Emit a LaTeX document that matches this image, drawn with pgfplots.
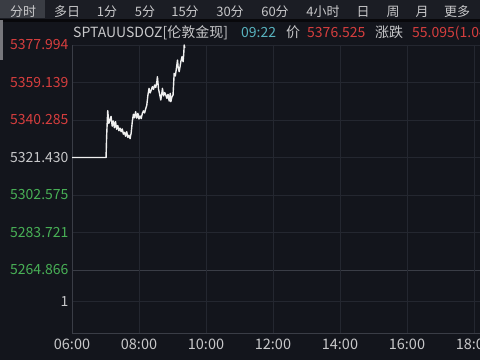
\documentclass[border=0pt]{standalone}
\usepackage{pgfplots}
\pgfplotsset{compat=1.18}
\usepackage{pgfplotstable}
\usepackage{fontspec}
\setmainfont{Noto Sans CJK SC}

\definecolor{bg}{RGB}{19,21,28}
\definecolor{tabbar}{RGB}{27,29,36}
\definecolor{tabsel}{RGB}{58,61,68}
\definecolor{gridc}{RGB}{36,39,48}
\definecolor{axisc}{RGB}{58,61,70}
\definecolor{txt}{RGB}{200,200,202}
\definecolor{upred}{RGB}{214,62,62}
\definecolor{downgreen}{RGB}{72,176,86}
\definecolor{tealc}{RGB}{88,178,190}
\definecolor{pricec}{RGB}{240,240,240}

% minutes after 06:00, price
\pgfplotstableread{
t p
0 5321.43
61 5321.43
62 5331.90
64 5344.97
66 5338.60
68 5340.28
70 5342.10
72 5337.20
74 5339.80
76 5336.40
78 5339.45
80 5335.60
82 5337.50
84 5334.90
86 5336.20
88 5334.40
90 5335.80
92 5333.20
94 5334.10
96 5332.10
98 5334.41
100 5331.50
102 5332.60
104 5330.90
106 5333.80
108 5339.50
110 5343.20
112 5341.40
114 5344.47
116 5341.20
118 5343.63
120 5340.80
122 5342.30
124 5341.00
126 5343.63
128 5344.90
130 5343.80
132 5345.90
134 5347.82
136 5352.85
138 5356.20
140 5353.90
142 5355.40
144 5357.04
146 5355.70
148 5357.88
150 5356.60
152 5359.40
153 5362.07
155 5355.80
157 5353.20
159 5350.34
161 5353.90
162 5356.20
164 5352.40
166 5354.10
168 5352.90
170 5351.18
172 5353.20
174 5349.80
176 5353.69
177 5349.50
179 5351.90
181 5352.85
183 5363.74
185 5362.40
187 5366.10
189 5370.45
190 5367.10
192 5364.58
194 5367.90
195 5369.61
197 5372.12
199 5369.61
200 5372.96
201 5377.994
202 5376.525
}\pricedata

\begin{document}
\begin{tikzpicture}[x=1pt,y=1pt]
\fill[bg] (0,0) rectangle (480,360);
\useasboundingbox (0,0) rectangle (480,360);

% tab bar
\fill[tabbar] (0,341) rectangle (480,360);
\fill[tabsel] (0,342) rectangle (45,360);
\fill[black!60!bg] (0,338) rectangle (480,341);
\fill[txt!55!bg] (0,300) rectangle (3,340);
\begin{scope}[every node/.style={font=\fontsize{13}{15}\selectfont, text=txt, anchor=base, inner sep=0pt}]
\node at (23,344) {分时};
\node at (67,344) {多日};
\node at (107,344) {1分};
\node at (145,344) {5分};
\node at (185,344) {15分};
\node at (230,344) {30分};
\node at (275,344) {60分};
\node at (323,344) {4小时};
\node at (363,344) {日};
\node at (393,344) {周};
\node at (422,344) {月};
\node at (457,344) {更多};
\end{scope}

% price panel
\begin{axis}[
  at={(72pt,90pt)}, anchor=south west,
  width=408pt, height=225pt, scale only axis,
  xmin=0, xmax=730.8, ymin=5264.866, ymax=5377.994,
  axis x line*=bottom, axis y line*=left,
  axis line style={draw=axisc, line width=0.8pt},
  major tick length=0pt,
  xtick={0,120,240,360,480,600,720}, xticklabels={},
  ytick={5264.866,5283.721,5302.575,5321.430,5340.285,5359.139,5377.994},
  yticklabels={\textcolor{downgreen}{5264.866},\textcolor{downgreen}{5283.721},\textcolor{downgreen}{5302.575},\textcolor{txt}{5321.430},\textcolor{upred}{5340.285},\textcolor{upred}{5359.139},\textcolor{upred}{5377.994}},
  yticklabel style={font=\fontsize{14}{16}\selectfont, anchor=east, xshift=0pt},
  grid=major, major grid style={draw=gridc, line width=0.6pt},
  clip=false,
]
\addplot[pricec, line width=1.4pt, line join=round] table[x=t, y=p] {\pricedata};
\end{axis}

% volume panel
\begin{axis}[
  at={(72pt,27pt)}, anchor=south west,
  width=408pt, height=63pt, scale only axis,
  xmin=0, xmax=730.8, ymin=0, ymax=2,
  axis x line*=bottom, axis y line*=left,
  axis line style={draw=axisc, line width=0.8pt},
  major tick length=0pt,
  xtick={0,120,240,360,480,600,720},
  xticklabels={06:00,08:00,10:00,12:00,14:00,16:00,18:00},
  ytick={1}, yticklabels={\textcolor{txt}{1}},
  yticklabel style={font=\fontsize{14}{16}\selectfont, anchor=east, xshift=0pt},
  xticklabel style={font=\fontsize{14.5}{16}\selectfont, text=txt, yshift=-2pt},
  grid=major, major grid style={draw=gridc, line width=0.6pt},
]
\addplot[draw=none] coordinates {(0,0)};
\end{axis}

% header line
\begin{scope}[every node/.style={font=\fontsize{14}{16}\selectfont, anchor=base west, inner sep=0pt}]
\node[text=txt] at (73,322.5) {SPTAUUSDOZ[伦敦金现]};
\node[text=tealc] at (241,322.5) {09:22};
\node[text=txt] at (286,322.5) {价};
\node[text=upred] at (307,322.5) {5376.525};
\node[text=txt] at (375,322.5) {涨跌};
\node[text=upred] at (412,322.5) {55.095(1.04\%)};
\end{scope}
\end{tikzpicture}
\end{document}
